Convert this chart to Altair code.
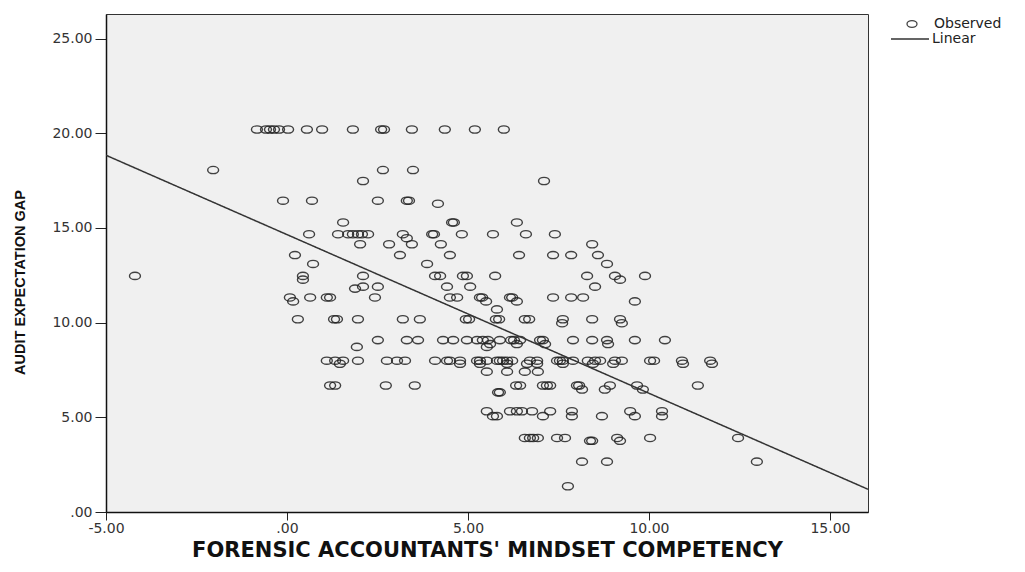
import altair as alt
import pandas as pd

# Audit expectation gap levels (y) and the competency scores (x) observed at each level
gap_levels = [20.20, 18.06, 17.48, 16.44, 16.28, 15.29, 14.67, 14.46, 14.14, 13.57,
              13.10, 12.47, 12.27, 11.90, 11.80, 11.33, 11.12, 10.70, 10.18, 9.97,
              9.08, 8.87, 8.72, 7.99, 7.83, 7.41, 6.68, 6.47, 6.32, 5.32,
              5.06, 3.91, 3.76, 2.66, 1.36]

competency_rows = [
    [-0.83, -0.58, -0.47, -0.36, -0.22, 0.03, 0.55, 0.97, 1.82, 2.60, 2.68, 3.45, 4.36, 5.19, 5.99],
    [-2.04, 2.65, 3.48],
    [2.10, 7.10],
    [-0.11, 0.69, 2.51, 3.31, 3.37],
    [4.17],
    [1.55, 4.56, 4.61, 6.35],
    [0.61, 1.41, 1.69, 1.82, 1.96, 2.07, 2.24, 3.20, 4.01, 4.06, 4.83, 5.69, 6.60, 7.40],
    [3.31],
    [2.02, 2.82, 3.45, 4.25, 8.43],
    [0.22, 3.12, 4.50, 6.41, 7.35, 7.85, 8.59],
    [0.72, 3.87, 8.84],
    [-4.20, 0.44, 2.10, 4.09, 4.23, 4.86, 4.97, 5.75, 8.29, 9.06, 9.89],
    [0.44, 9.20],
    [2.10, 2.51, 4.42, 5.06, 8.51],
    [1.88],
    [0.08, 0.64, 1.10, 1.19, 2.43, 4.50, 4.70, 5.33, 5.39, 6.16, 6.22, 7.35, 7.85, 8.18],
    [0.17, 5.50, 6.35, 9.61],
    [5.80],
    [0.30, 1.30, 1.38, 1.96, 3.20, 3.67, 4.94, 5.03, 5.77, 5.86, 6.57, 6.69, 7.62, 8.43, 9.20],
    [7.60, 9.25],
    [2.51, 3.31, 3.62, 4.31, 4.59, 4.97, 5.25, 5.41, 5.55, 5.88, 6.19, 6.27, 6.44, 6.99, 7.07,
     7.90, 8.43, 8.84, 9.61, 10.44],
    [5.61, 6.35, 7.13, 8.87],
    [1.93, 5.52],
    [1.10, 1.33, 1.55, 1.96, 2.76, 3.04, 3.26, 4.09, 4.42, 4.50, 4.78, 5.25, 5.33, 5.52, 5.80,
     5.88, 5.97, 6.08, 6.22, 6.71, 6.91, 7.46, 7.54, 7.62, 7.90, 8.31, 8.51, 8.65, 9.06, 9.25,
     10.03, 10.14, 10.91, 11.69],
    [1.46, 4.78, 5.33, 6.08, 6.63, 6.91, 7.62, 8.45, 9.01, 10.94, 11.74],
    [5.52, 6.08, 6.57, 6.93],
    [1.19, 1.33, 2.73, 3.53, 6.33, 6.44, 7.07, 7.18, 7.27, 8.01, 8.07, 8.92, 9.67, 11.35],
    [8.15, 8.78, 9.83],
    [5.83, 5.88],
    [5.52, 6.16, 6.35, 6.49, 6.77, 7.27, 7.87, 9.48, 10.36],
    [5.69, 5.80, 7.07, 7.87, 8.70, 9.61, 10.36],
    [6.57, 6.71, 6.80, 6.93, 7.46, 7.68, 9.12, 10.03, 12.46],
    [8.37, 8.43, 9.20],
    [8.15, 8.84, 12.98],
    [7.76],
]

# Fitted linear line (at the x-axis limits)
line_x = [-5.0, 16.05]
line_y = [18.84, 1.20]

x_ticks = [-5, 0, 5, 10, 15]
y_ticks = [0, 5, 10, 15, 20, 25]

obs = pd.DataFrame(
    [{"x": xv, "y": yv, "series": "Observed"}
     for yv, row in zip(gap_levels, competency_rows) for xv in row]
)
fit = pd.DataFrame({"x": line_x, "y": line_y, "series": ["Linear"] * len(line_x)})

ellipse = "M-1,0A1,0.66,0,1,1,1,0A1,0.66,0,1,1,-1,0Z"
label_expr = ("datum.value == 0 ? '.00' : (datum.value < 0 ? '-' + format(-datum.value, '.2f')"
              " : format(datum.value, '.2f'))")

x_enc = alt.X(
    "x:Q",
    scale=alt.Scale(domain=[-5, 16.05], nice=False, zero=False),
    axis=alt.Axis(
        values=x_ticks, labelExpr=label_expr, grid=False,
        title="FORENSIC ACCOUNTANTS' MINDSET COMPETENCY",
        titleFont="DejaVu Sans", titleFontSize=21, titleFontWeight="bold",
        titleColor="#111", titleY=38, titleBaseline="middle",
        labelFont="DejaVu Sans", labelFontSize=14, labelColor="#333",
        labelPadding=1, tickSize=8, tickColor="#222", domainColor="#111",
        domainWidth=1.5, labelFlush=False,
    ),
)
y_enc = alt.Y(
    "y:Q",
    scale=alt.Scale(domain=[0, 26.3], nice=False),
    axis=alt.Axis(
        values=y_ticks, labelExpr=label_expr, grid=False,
        title="AUDIT EXPECTATION GAP",
        titleFont="Liberation Sans", titleFontSize=14.5, titleFontWeight="bold",
        titleColor="#111", titleX=-86, titleY=268, titleBaseline="middle",
        titleAlign="center", titleAngle=270,
        labelFont="DejaVu Sans", labelFontSize=14, labelColor="#333",
        labelPadding=3, tickSize=11, tickColor="#222", domainColor="#111",
        domainWidth=1.5, labelFlush=False,
    ),
)

points = alt.Chart(obs).mark_point(
    filled=False, size=120, stroke="#222", strokeWidth=1.4, opacity=0.85
).encode(
    x=x_enc,
    y=y_enc,
    shape=alt.Shape(
        "series:N",
        scale=alt.Scale(domain=["Observed"], range=[ellipse]),
        legend=alt.Legend(
            title=None, orient="none", legendX=799, legendY=3,
            labelFont="DejaVu Sans", labelFontSize=14, labelColor="#222",
            labelOffset=15, symbolSize=100, symbolStrokeColor="#222",
            symbolStrokeWidth=1.3, padding=0,
        ),
    ),
)

line = alt.Chart(fit).mark_line(color="#333", strokeWidth=1.5, clip=True).encode(
    x="x:Q",
    y="y:Q",
    strokeDash=alt.StrokeDash(
        "series:N",
        scale=alt.Scale(domain=["Linear"], range=[[1, 0]]),
        legend=alt.Legend(
            title=None, orient="none", legendX=784, legendY=5,
            labelFont="DejaVu Sans", labelFontSize=14, labelColor="#222",
            labelOffset=2, symbolSize=1444, symbolType="stroke",
            symbolStrokeColor="#333", symbolStrokeWidth=1.5, padding=0,
        ),
    ),
)

chart = (
    alt.layer(points, line)
    .properties(
        width=762, height=498,
        autosize=alt.AutoSizeParams(type="none"),
        padding={"left": 98, "top": 6, "right": 149, "bottom": 52},
        background="white",
    )
    .configure_view(fill="#f0f0f0", stroke="#333", strokeWidth=1)
)

chart.save("out.html", embed_options={"renderer": "svg", "actions": False})
